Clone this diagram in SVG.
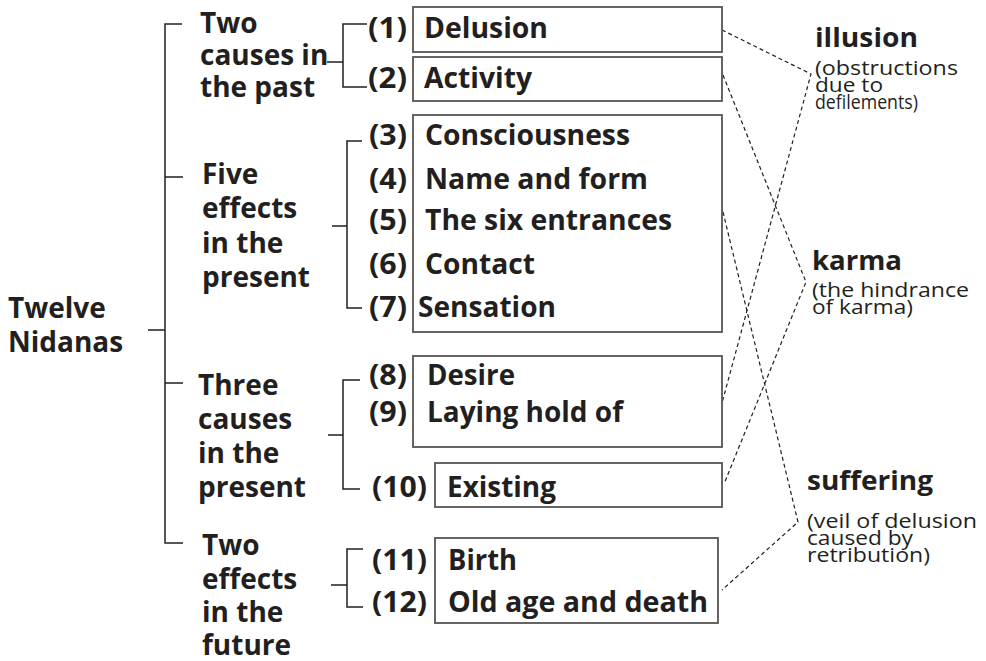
<svg xmlns="http://www.w3.org/2000/svg" width="986" height="661" viewBox="0 0 986 661">
<style>
.t{font-family:"Open Sans","Liberation Sans",sans-serif;font-weight:bold;font-size:28px;fill:#231f20}
.b{fill:none;stroke:#555;stroke-width:1.8}
.br{fill:none;stroke:#231f20;stroke-width:1.5}
.d{fill:none;stroke:#231f20;stroke-width:1.2;stroke-dasharray:4 3}
.h{font-family:"Open Sans","Liberation Sans",sans-serif;font-weight:bold;font-size:27px;fill:#231f20}
.s{font-family:"Open Sans","Liberation Sans",sans-serif;font-size:20px;fill:#231f20}
</style>
<rect width="986" height="661" fill="#fff"/>
<g id="connectors">
  <path class="br" d="M148,330H165M182,24H165V543H183M165,177H183M165,383H183"/>
  <path class="br" d="M327,62H343M367,24H343V87H367"/>
  <path class="br" d="M332,226H347M362,141H347V308H362"/>
  <path class="br" d="M328,435H343M360,380H343V489H360"/>
  <path class="br" d="M331,585H347M363,549H347V607H363"/>
  <polyline class="d" points="722,30 811,74 722,403"/>
  <polyline class="d" points="723,75 806,282 724,484"/>
  <polyline class="d" points="723,212 798,522 722,590"/>
</g>
<g id="root"><text class="t" x="8" y="318">Twelve</text><text class="t" x="8" y="352">Nidanas</text></g>
<g id="past-causes"><text class="t" x="200" y="33">Two</text><text class="t" x="200" y="65">causes in</text><text class="t" x="200" y="97">the past</text></g>
<g id="present-effects"><text class="t" x="202" y="184">Five</text><text class="t" x="202" y="218">effects</text><text class="t" x="202" y="253">in the</text><text class="t" x="202" y="287">present</text></g>
<g id="present-causes"><text class="t" x="198" y="395">Three</text><text class="t" x="198" y="429">causes</text><text class="t" x="198" y="463">in the</text><text class="t" x="198" y="497">present</text></g>
<g id="future-effects"><text class="t" x="202" y="555">Two</text><text class="t" x="202" y="589">effects</text><text class="t" x="202" y="622">in the</text><text class="t" x="202" y="655">future</text></g>
<g id="n1"><rect class="b" x="413" y="7" width="309" height="45"/><text class="t" x="368" y="38" textLength="39" lengthAdjust="spacingAndGlyphs">(1)</text><text class="t" x="424" y="38" textLength="124" lengthAdjust="spacingAndGlyphs">Delusion</text></g>
<g id="n2"><rect class="b" x="413" y="57" width="309" height="44"/><text class="t" x="368" y="88" textLength="39" lengthAdjust="spacingAndGlyphs">(2)</text><text class="t" x="424" y="88" textLength="108" lengthAdjust="spacingAndGlyphs">Activity</text></g>
<g id="n3-7"><rect class="b" x="413" y="115" width="309" height="217"/>
<text class="t" x="369" y="145" textLength="38" lengthAdjust="spacingAndGlyphs">(3)</text><text class="t" x="425" y="145" textLength="205" lengthAdjust="spacingAndGlyphs">Consciousness</text>
<text class="t" x="369" y="189" textLength="38" lengthAdjust="spacingAndGlyphs">(4)</text><text class="t" x="425" y="189" textLength="223" lengthAdjust="spacingAndGlyphs">Name and form</text>
<text class="t" x="369" y="230" textLength="38" lengthAdjust="spacingAndGlyphs">(5)</text><text class="t" x="425" y="230" textLength="247" lengthAdjust="spacingAndGlyphs">The six entrances</text>
<text class="t" x="369" y="274" textLength="38" lengthAdjust="spacingAndGlyphs">(6)</text><text class="t" x="425" y="274" textLength="110" lengthAdjust="spacingAndGlyphs">Contact</text>
<text class="t" x="369" y="317" textLength="38" lengthAdjust="spacingAndGlyphs">(7)</text><text class="t" x="418" y="317" textLength="138" lengthAdjust="spacingAndGlyphs">Sensation</text></g>
<g id="n8-9"><rect class="b" x="413" y="356" width="309" height="91"/>
<text class="t" x="369" y="385" textLength="38" lengthAdjust="spacingAndGlyphs">(8)</text><text class="t" x="427" y="385" textLength="88" lengthAdjust="spacingAndGlyphs">Desire</text>
<text class="t" x="369" y="422" textLength="38" lengthAdjust="spacingAndGlyphs">(9)</text><text class="t" x="427" y="422" textLength="196" lengthAdjust="spacingAndGlyphs">Laying hold of</text></g>
<g id="n10"><rect class="b" x="435" y="463" width="287" height="44"/><text class="t" x="372" y="497" textLength="55" lengthAdjust="spacingAndGlyphs">(10)</text><text class="t" x="447" y="497" textLength="109" lengthAdjust="spacingAndGlyphs">Existing</text></g>
<g id="n11-12"><rect class="b" x="435" y="538" width="283" height="85"/>
<text class="t" x="372" y="570" textLength="55" lengthAdjust="spacingAndGlyphs">(11)</text><text class="t" x="448" y="570" textLength="69" lengthAdjust="spacingAndGlyphs">Birth</text>
<text class="t" x="372" y="612" textLength="55" lengthAdjust="spacingAndGlyphs">(12)</text><text class="t" x="448" y="612" textLength="260" lengthAdjust="spacingAndGlyphs">Old age and death</text></g>
<g id="illusion"><text class="h" x="815" y="47" textLength="103" lengthAdjust="spacingAndGlyphs">illusion</text>
<text class="s" x="815" y="75" textLength="143" lengthAdjust="spacingAndGlyphs">(obstructions</text><text class="s" x="815" y="92" textLength="68" lengthAdjust="spacingAndGlyphs">due to</text><text class="s" x="815" y="109" textLength="103" lengthAdjust="spacingAndGlyphs">defilements)</text></g>
<g id="karma"><text class="h" x="812" y="270" textLength="90" lengthAdjust="spacingAndGlyphs">karma</text>
<text class="s" x="812" y="297" textLength="157" lengthAdjust="spacingAndGlyphs">(the hindrance</text><text class="s" x="812" y="314" textLength="101" lengthAdjust="spacingAndGlyphs">of karma)</text></g>
<g id="suffering"><text class="h" x="807" y="490" textLength="126" lengthAdjust="spacingAndGlyphs">suffering</text>
<text class="s" x="807" y="528" textLength="170" lengthAdjust="spacingAndGlyphs">(veil of delusion</text><text class="s" x="807" y="545" textLength="106" lengthAdjust="spacingAndGlyphs">caused by</text><text class="s" x="807" y="562" textLength="123" lengthAdjust="spacingAndGlyphs">retribution)</text></g>
</svg>
